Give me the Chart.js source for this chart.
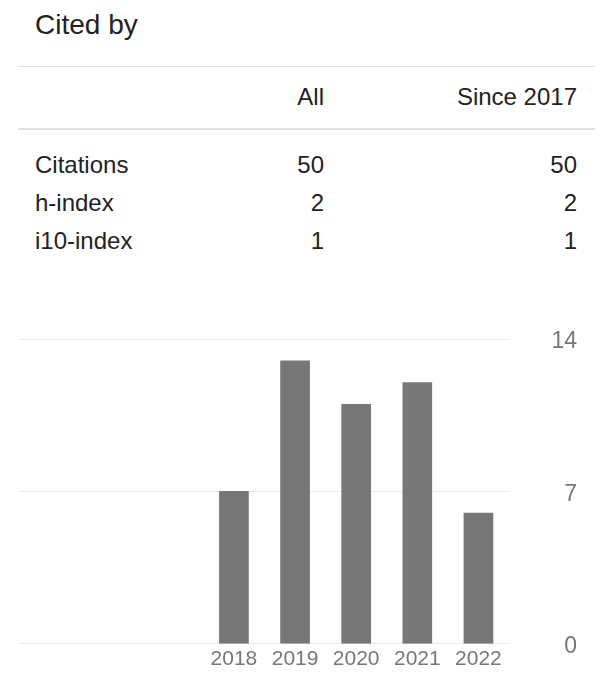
<!DOCTYPE html>
<html>
<head>
<meta charset="utf-8">
<script src="https://cdn.jsdelivr.net/npm/chart.js@4"></script>
<style>
  body { margin:0; background:#fff; font-family:Arial, "Liberation Sans", sans-serif; color:#222; }
  .wrap { position:relative; width:610px; height:680px; }
  #title { position:absolute; left:35px; top:8px; font-size:28px; line-height:34px; }
  table { position:absolute; left:18px; width:577px; border-collapse:collapse; table-layout:fixed; font-size:24px; }
  td { padding:0; }
  td.name { padding-left:17px; text-align:left; }
  td.num { text-align:right; }
  td.last { padding-right:18px; }
  #head { top:66px; }
  #head tr { height:62px; border-top:1px solid #e0e0e0; border-bottom:2px solid #e0e0e0; }
  #stats { top:146px; }
  #stats tr { height:38px; }
  #chartBox { position:absolute; left:20px; top:320px; width:557px; height:360px; }
</style>
</head>
<body>
<div class="wrap">
  <div id="title">Cited by</div>
  <table id="head">
    <colgroup><col style="width:200px"><col style="width:106px"><col style="width:271px"></colgroup>
    <tr><td class="name"></td><td class="num">All</td><td class="num last">Since 2017</td></tr>
  </table>
  <table id="stats">
    <colgroup><col style="width:200px"><col style="width:106px"><col style="width:271px"></colgroup>
  </table>
  <div id="chartBox"><canvas id="citeChart"></canvas></div>
</div>
<script>
// table values
const statNames = ['Citations', 'h-index', 'i10-index'];
const statAll = [50, 2, 1];
const statSince = [50, 2, 1];

// chart values (first three slots are empty years)
const years = ['', '', '', '2018', '2019', '2020', '2021', '2022'];
const citations = [null, null, null, 7, 13, 11, 12, 6];
const yTicks = [0, 7, 14];

const stats = document.getElementById('stats');
statNames.forEach((n, i) => {
  const tr = stats.insertRow();
  tr.innerHTML = `<td class="name">${n}</td><td class="num">${statAll[i]}</td><td class="num last">${statSince[i]}</td>`;
});

new Chart(document.getElementById('citeChart'), {
  type: 'bar',
  data: {
    labels: years,
    datasets: [{ data: citations, backgroundColor: '#777777', barThickness: 29 }]
  },
  options: {
    responsive: true,
    maintainAspectRatio: false,
    animation: false,
    layout: { padding: { top: 19, bottom: 5, left: 0, right: 0 } },
    plugins: { legend: { display: false }, tooltip: { enabled: false } },
    scales: {
      x: {
        grid: { display: false, drawTicks: false },
        border: { display: false },
        ticks: { color: '#777', font: { family: 'Arial', size: 21 }, autoSkip: false, maxRotation: 0, padding: 3 }
      },
      y: {
        position: 'right',
        min: 0, max: 14,
        afterBuildTicks: s => { s.ticks = yTicks.map(v => ({ value: v })); },
        afterFit: s => { s.width = 68; },
        grid: { color: '#e8e8e8', drawTicks: false },
        border: { display: false },
        ticks: { color: '#777', font: { family: 'Arial', size: 23 }, crossAlign: 'far', padding: 0, labelOffset: 3 }
      }
    }
  }
});
</script>
</body>
</html>
